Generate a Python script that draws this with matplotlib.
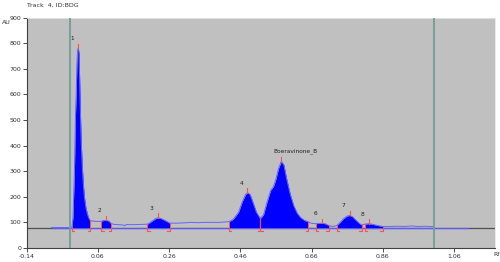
import matplotlib
matplotlib.use("Agg")
import matplotlib.pyplot as plt
import numpy as np

# Densitogram trace (Rf, AU)
rf = [-0.07, -0.02, -0.013, -0.010, -0.006, -0.003, -0.001, 0.001, 0.003, 0.005,
      0.007, 0.009, 0.011, 0.013, 0.016, 0.019, 0.022, 0.026, 0.030, 0.034,
      0.038, 0.045, 0.055, 0.069, 0.074, 0.082, 0.090, 0.097, 0.105, 0.12,
      0.13, 0.135, 0.14, 0.15, 0.18, 0.199, 0.21, 0.22, 0.228, 0.236,
      0.248, 0.262, 0.28, 0.30, 0.32, 0.34, 0.36, 0.38, 0.40, 0.428,
      0.44, 0.455, 0.465, 0.475, 0.48, 0.487, 0.495, 0.505, 0.516, 0.525,
      0.535, 0.545, 0.553, 0.56, 0.567, 0.575, 0.582, 0.59, 0.60, 0.61,
      0.62, 0.63, 0.64, 0.65, 0.66, 0.671, 0.68, 0.69, 0.70, 0.708,
      0.72, 0.731, 0.74, 0.75, 0.76, 0.767, 0.775, 0.785, 0.795, 0.801,
      0.809, 0.82, 0.83, 0.845, 0.86, 0.88, 0.90, 0.92, 0.94, 0.96,
      0.98, 1.005]
au = [80, 80, 82, 120, 300, 520, 600, 720, 775, 780,
      760, 640, 520, 420, 320, 250, 200, 160, 135, 118,
      108, 105, 104, 104, 107, 108, 106, 96, 92, 91,
      90, 87, 92, 91, 92, 93, 103, 113, 118, 116,
      108, 97, 97, 98, 100, 99, 100, 100, 100, 103,
      112, 140, 180, 210, 216, 210, 180, 140, 115, 130,
      180, 225, 240, 270, 310, 338, 325, 270, 210, 165,
      135, 118, 108, 103, 96, 95, 96, 97, 94, 88,
      84, 88, 100, 115, 125, 127, 122, 108, 95, 90,
      93, 95, 93, 88, 84, 84, 85, 84, 86, 84,
      85, 83]

baseline = 80
peak_labels = ["1", "2", "3", "4", "Boeravinone_B", "6", "7", "8"]
peak_start = [-0.013, 0.069, 0.199, 0.428, 0.516, 0.671, 0.731, 0.809]
peak_end = [0.038, 0.097, 0.262, 0.516, 0.650, 0.708, 0.801, 0.860]
peak_apex = [0.005, 0.082, 0.228, 0.480, 0.575, 0.690, 0.767, 0.820]

x_ticks = [-0.14, 0.06, 0.26, 0.46, 0.66, 0.86, 1.06]
y_ticks = [0, 100, 200, 300, 400, 500, 600, 700, 800, 900]
front_lines = [-0.019, 1.005]

rf_a = np.array(rf)
au_a = np.array(au)

fig = plt.figure(figsize=(5.0, 2.62), dpi=100)
ax = fig.add_axes([0.0534, 0.0534, 0.9366, 0.8796])
ax.set_facecolor("#c0c0c0")
ax.set_xlim(-0.14, 1.175)
ax.set_ylim(0, 900)

# baseline
ax.axhline(baseline, color="#505050", lw=0.9, zorder=1)
ax.plot([-0.07, 1.10], [baseline, baseline], color="#5a5aff", lw=0.9, zorder=2)

# filled peaks
for s, e in zip(peak_start, peak_end):
    m = (rf_a >= s - 1e-9) & (rf_a <= e + 1e-9)
    ax.fill_between(rf_a[m], baseline, au_a[m], color="#0000ff", lw=0, zorder=3)

# trace
ax.plot(rf_a, au_a, color="#6464ff", lw=0.7, zorder=4)

# front lines
for fx in front_lines:
    ax.axvline(fx, color="#6f9f95", lw=1.3, zorder=5)

# red markers and labels
red = "#ff5050"
for lab, s, e, a in zip(peak_labels, peak_start, peak_end, peak_apex):
    ys = np.interp(s, rf_a, au_a)
    ye = np.interp(e, rf_a, au_a)
    ya = np.interp(a, rf_a, au_a)
    ax.plot([s, s, s + 0.007], [ys, 66, 66], color=red, lw=0.8, zorder=6)
    ax.plot([e, e, e - 0.007], [ye, 66, 66], color=red, lw=0.8, zorder=6)
    ax.plot([a, a], [ya, ya + 18], color=red, lw=0.8, zorder=6)
    if len(lab) == 1:
        ax.text(a - 0.018, ya + 28, lab, fontsize=4.2, color="#202020",
                ha="center", va="bottom", zorder=7)
    else:
        ax.text(a - 0.022, ya + 28, lab, fontsize=4.2, color="#202020",
                ha="left", va="bottom", zorder=7)

ax.set_xticks(x_ticks)
ax.set_xticklabels([f"{v:.2f}" for v in x_ticks])
ax.set_yticks(y_ticks)
ax.tick_params(axis="both", labelsize=4.5, length=3, width=0.6, colors="#303030", pad=1)
for sp in ["top", "right"]:
    ax.spines[sp].set_color("#e6e6e6")
    ax.spines[sp].set_linewidth(0.6)
for sp in ["left", "bottom"]:
    ax.spines[sp].set_color("#404040")
    ax.spines[sp].set_linewidth(0.8)

fig.text(27 / 500, 1 - 5 / 262, "Track  4, ID:BDG", fontsize=4.5, color="#303030", va="center", ha="left")
fig.text(2 / 500, 1 - 22 / 262, "AU", fontsize=4.5, color="#303030", va="center", ha="left")
fig.text(493 / 500, 1 - 255 / 262, "Rf", fontsize=4.5, color="#303030", va="center", ha="left")

fig.savefig("out.png", dpi=100)
